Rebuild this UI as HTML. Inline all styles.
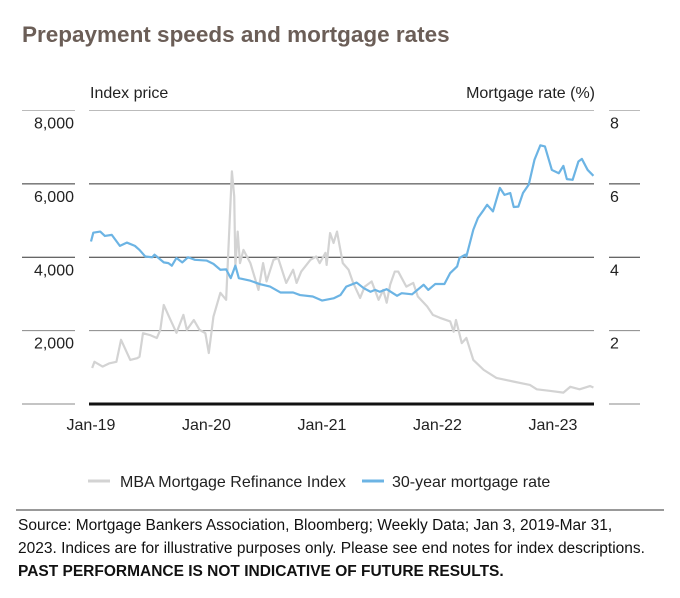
<!DOCTYPE html>
<html><head><meta charset="utf-8">
<style>
body{margin:0;background:#fff;font-family:"Liberation Sans",sans-serif;}
#wrap{position:relative;width:680px;height:598px;overflow:hidden;}
svg text{font-family:"Liberation Sans",sans-serif;}
</style></head>
<body>
<div id="wrap">
<svg id="chart" width="680" height="598">
<text x="22" y="42" font-size="22.5" font-weight="bold" fill="#6b5e57">Prepayment speeds and mortgage rates</text>
<text x="90" y="98" font-size="16" fill="#222">Index price</text>
<text x="595" y="98" font-size="16" fill="#222" text-anchor="end">Mortgage rate (%)</text>
<g id="grid"></g>
<g id="series"></g>
<g id="xaxis"></g>
<line x1="88" y1="481" x2="110" y2="481" stroke="#d3d3d3" stroke-width="3"/>
<text x="120" y="487" font-size="16" fill="#222">MBA Mortgage Refinance Index</text>
<line x1="362" y1="481" x2="384" y2="481" stroke="#6cb4e4" stroke-width="3"/>
<text x="392" y="487" font-size="16" fill="#222">30-year mortgage rate</text>
<line x1="16" y1="510" x2="664" y2="510" stroke="#333" stroke-width="1"/>
<text x="18" y="530" font-size="15.5" fill="#111">Source: Mortgage Bankers Association, Bloomberg; Weekly Data; Jan 3, 2019-Mar 31,</text>
<text x="18" y="553" font-size="15.5" fill="#111">2023. Indices are for illustrative purposes only. Please see end notes for index descriptions.</text>
<text x="18" y="576" font-size="15.5" font-weight="bold" fill="#111">PAST PERFORMANCE IS NOT INDICATIVE OF FUTURE RESULTS.</text>
</svg>
</div>
<script>
const leftTicks=[0,2000,4000,6000,8000];
const leftTickLabels=["","2,000","4,000","6,000","8,000"];
const rightTickLabels=["","2","4","6","8"];
const xTickYears=[2019,2020,2021,2022,2023];
const xTickLabels=["Jan-19","Jan-20","Jan-21","Jan-22","Jan-23"];
const refiYears=[0.01,0.03,0.10,0.16,0.22,0.26,0.34,0.40,0.42,0.45,0.51,0.57,0.60,0.63,0.68,0.74,0.80,0.83,0.89,0.94,0.99,1.02,1.06,1.12,1.17,1.22,1.24,1.25,1.27,1.29,1.32,1.38,1.45,1.49,1.52,1.58,1.62,1.69,1.75,1.78,1.82,1.90,1.95,1.98,2.03,2.04,2.07,2.10,2.13,2.18,2.23,2.27,2.33,2.37,2.43,2.49,2.53,2.56,2.59,2.63,2.66,2.73,2.79,2.83,2.91,2.96,3.02,3.11,3.14,3.16,3.21,3.25,3.31,3.40,3.51,3.66,3.80,3.86,3.97,4.09,4.15,4.23,4.32,4.35];
const refiValues=[980,1150,1020,1110,1150,1750,1200,1250,1290,1930,1880,1800,2020,2700,2350,1940,2430,2020,2290,2020,1930,1390,2380,3030,2840,6340,5660,3750,4700,3840,4200,3840,3110,3840,3340,3930,3980,3300,3660,3300,3610,3930,4020,3840,4120,3790,4660,4390,4700,3840,3660,3300,2890,3200,3340,2840,3110,2760,3250,3610,3610,3200,3300,2930,2660,2430,2350,2250,1970,2290,1660,1800,1200,930,710,610,520,400,360,310,470,400,490,450];
const rateYears=[0.00,0.02,0.08,0.12,0.18,0.25,0.31,0.38,0.42,0.47,0.53,0.55,0.63,0.67,0.70,0.74,0.79,0.84,0.90,1.00,1.06,1.12,1.17,1.21,1.25,1.28,1.38,1.46,1.55,1.64,1.75,1.81,1.92,2.00,2.10,2.16,2.21,2.30,2.36,2.42,2.46,2.50,2.56,2.65,2.69,2.78,2.88,2.92,2.98,3.06,3.11,3.17,3.19,3.24,3.25,3.31,3.35,3.40,3.43,3.48,3.54,3.58,3.63,3.66,3.70,3.74,3.79,3.84,3.89,3.93,3.99,4.05,4.09,4.12,4.17,4.22,4.25,4.30,4.35];
const rateValues=[4.43,4.67,4.70,4.58,4.61,4.31,4.40,4.31,4.20,4.02,4.00,4.07,3.86,3.84,3.77,3.98,3.86,4.00,3.93,3.91,3.82,3.66,3.67,3.43,3.77,3.43,3.36,3.27,3.20,3.04,3.04,2.97,2.93,2.82,2.88,2.97,3.20,3.31,3.16,3.06,3.11,3.06,3.13,2.95,3.02,2.99,3.25,3.11,3.27,3.27,3.57,3.75,3.98,4.07,4.02,4.75,5.07,5.29,5.43,5.25,5.89,5.70,5.75,5.37,5.38,5.75,5.98,6.66,7.05,7.02,6.38,6.29,6.49,6.13,6.11,6.61,6.68,6.38,6.22];

const NS="http://www.w3.org/2000/svg";
const X0=91,PXY=115.5,Y0=404,YTOP=110.5;
const xs=t=>X0+(t-2019)*PXY;
const xo=o=>X0+o*PXY;
const yL=v=>Y0-(v/8000)*(Y0-YTOP);
const yR=v=>Y0-(v/8)*(Y0-YTOP);
function mk(tag,attrs,parent){const e=document.createElementNS(NS,tag);for(const k in attrs)e.setAttribute(k,attrs[k]);parent.appendChild(e);return e;}
const grid=document.getElementById('grid');
leftTicks.forEach((v,i)=>{
  const y=yL(v);
  const col=i===4?"#bbb":(i===0||i===1?"#888":"#333");
  [[22,75],[89,594],[609,640]].forEach(([a,b],j)=>{
    let sw=1,c=col;
    if(i===0&&j===1){sw=3;c="#111";}
    const l=mk('line',{x1:a,x2:b,y1:y,y2:y,stroke:c,'stroke-width':sw},grid);
    
    
  });
  const t1=mk('text',{x:74,y:y+18,'font-size':16,fill:'#222','text-anchor':'end'},grid);
  t1.textContent=leftTickLabels[i];
  
  
  const t2=mk('text',{x:610,y:y+18,'font-size':16,fill:'#222'},grid);
  t2.textContent=rightTickLabels[i];
  
  
});
const xa=document.getElementById('xaxis');
xTickYears.forEach((t,i)=>{
  const tx=mk('text',{x:xs(t),y:430,'font-size':16,fill:'#222','text-anchor':'middle'},xa);
  tx.textContent=xTickLabels[i];
  
  
});
const sg=document.getElementById('series');
const p1=mk('polyline',{points:refiYears.map((o,i)=>xo(o)+','+yL(refiValues[i])).join(' '),fill:'none',stroke:'#d3d3d3','stroke-width':2.2,'stroke-linejoin':'round'},sg);


const p2=mk('polyline',{points:rateYears.map((o,i)=>xo(o)+','+yR(rateValues[i])).join(' '),fill:'none',stroke:'#6cb4e4','stroke-width':2.2,'stroke-linejoin':'round'},sg);


</script>
</body></html>
